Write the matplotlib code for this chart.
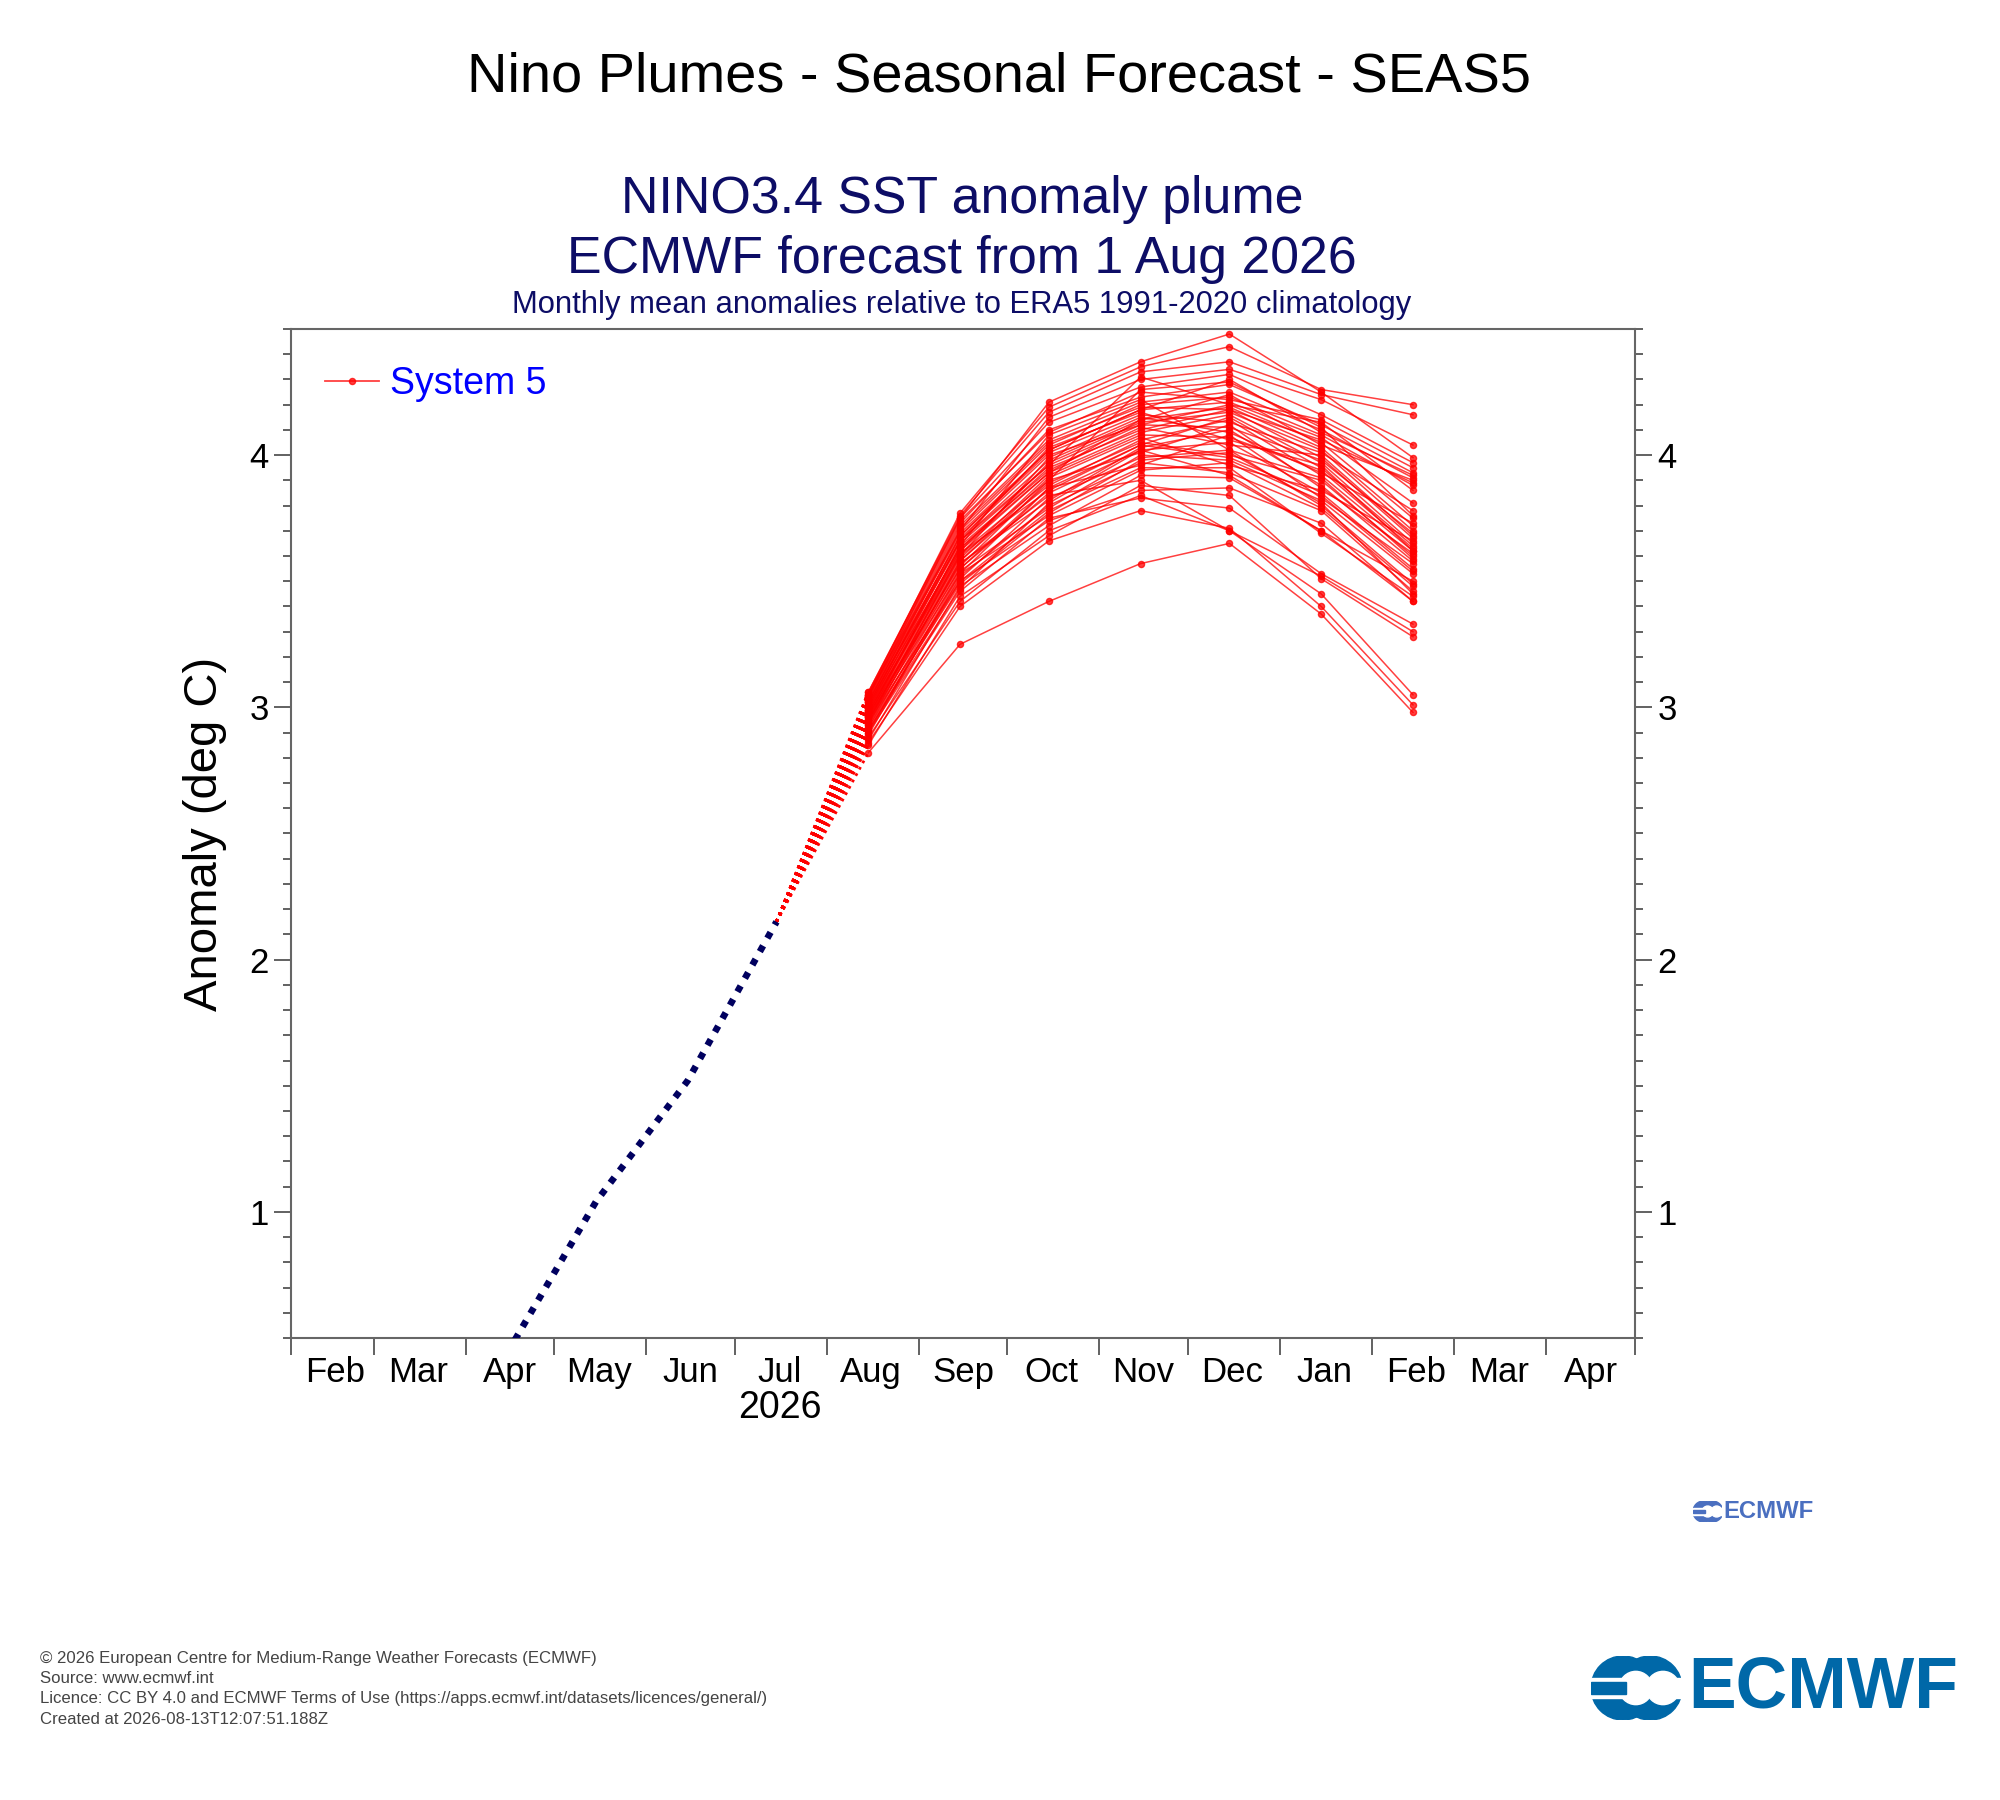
import datetime as dt
import matplotlib
matplotlib.use("Agg")
import matplotlib.pyplot as plt
import matplotlib.dates as mdates
from matplotlib.lines import Line2D
from matplotlib.patches import Circle, Rectangle

plt.rcParams['font.family'] = ['Liberation Sans', 'DejaVu Sans']

# observed anomalies (mid-month)
obs_dates = [dt.date(2026, 4, 15), dt.date(2026, 5, 15), dt.date(2026, 6, 15), dt.date(2026, 7, 15)]
obs_vals = [0.44, 1.04, 1.52, 2.15]

# forecast months (mid-month)
fc_dates = [dt.date(2026, 8, 15), dt.date(2026, 9, 15), dt.date(2026, 10, 15), dt.date(2026, 11, 15),
            dt.date(2026, 12, 15), dt.date(2027, 1, 15), dt.date(2027, 2, 15)]

# ensemble members, one value per member for each month
aug = [2.82, 2.86, 2.88, 2.85, 2.90, 2.87, 2.91, 2.89, 2.93, 2.92, 2.94, 2.95, 2.96, 2.93, 2.97, 2.95, 2.98,
       2.94, 2.99, 2.97, 3.00, 2.96, 3.01, 2.98, 3.02, 2.99, 3.03, 3.00, 3.04, 3.01, 3.05, 3.02, 3.03, 2.97,
       3.04, 3.05, 3.06, 3.02, 3.06, 3.05, 3.04, 2.95, 2.92, 3.00, 2.91, 2.98, 2.96, 2.90, 3.01, 2.94, 2.99]
sep = [3.25, 3.40, 3.42, 3.44, 3.46, 3.48, 3.50, 3.52, 3.51, 3.54, 3.55, 3.53, 3.57, 3.58, 3.56, 3.60, 3.59,
       3.61, 3.62, 3.58, 3.63, 3.64, 3.65, 3.62, 3.66, 3.60, 3.67, 3.68, 3.69, 3.66, 3.70, 3.71, 3.72, 3.64,
       3.73, 3.74, 3.75, 3.70, 3.76, 3.77, 3.75, 3.57, 3.49, 3.63, 3.47, 3.61, 3.55, 3.53, 3.68, 3.50, 3.66]
oct_ = [3.42, 3.66, 3.70, 3.68, 3.75, 3.72, 3.78, 3.80, 3.83, 3.79, 3.85, 3.87, 3.82, 3.89, 3.90, 3.88, 3.92,
        3.86, 3.93, 3.91, 3.95, 3.94, 3.96, 3.97, 3.98, 3.99, 4.00, 4.01, 4.02, 4.03, 4.04, 4.05, 4.06, 4.08,
        4.10, 4.09, 4.13, 4.15, 4.17, 4.19, 4.21, 3.84, 3.77, 3.93, 3.81, 3.90, 3.87, 3.76, 4.02, 3.74, 3.96]
nov = [3.57, 3.78, 3.84, 3.88, 3.83, 3.92, 3.95, 3.97, 3.99, 4.00, 4.02, 3.96, 4.03, 4.05, 4.01, 4.06, 4.08,
       4.04, 4.09, 4.07, 4.10, 4.11, 4.12, 4.13, 4.14, 4.15, 4.12, 4.16, 4.18, 4.17, 4.20, 4.19, 4.21, 4.22,
       4.23, 4.25, 4.27, 4.30, 4.33, 4.35, 4.37, 3.90, 3.98, 4.14, 4.02, 4.26, 4.04, 3.94, 4.18, 3.86, 4.31]
dec = [3.65, 3.71, 3.70, 3.84, 3.79, 3.91, 3.95, 3.93, 4.02, 3.98, 4.05, 4.08, 4.10, 4.00, 4.12, 4.14, 4.07,
       4.15, 4.16, 3.96, 4.18, 4.04, 4.11, 4.17, 4.19, 4.09, 4.20, 4.13, 4.21, 4.06, 4.23, 4.18, 4.25, 4.02,
       4.28, 4.22, 4.32, 4.34, 4.37, 4.43, 4.48, 3.70, 4.01, 4.24, 3.92, 4.29, 3.99, 3.97, 4.30, 3.87, 4.20]
jan = [3.37, 3.40, 3.45, 3.51, 3.53, 3.70, 3.69, 3.78, 3.80, 3.82, 3.85, 3.83, 3.88, 3.90, 3.87, 3.92, 3.94,
       3.95, 3.97, 3.86, 3.99, 4.00, 3.98, 4.02, 4.03, 3.93, 4.05, 4.01, 4.07, 3.96, 4.08, 4.06, 4.10, 3.91,
       4.12, 4.14, 4.16, 4.22, 4.24, 4.26, 4.25, 3.52, 3.81, 4.04, 3.70, 4.11, 3.84, 3.79, 4.09, 3.73, 4.13]
feb = [2.98, 3.01, 3.05, 3.28, 3.33, 3.42, 3.44, 3.46, 3.49, 3.53, 3.55, 3.57, 3.58, 3.60, 3.61, 3.62, 3.63,
       3.64, 3.65, 3.66, 3.67, 3.68, 3.69, 3.70, 3.72, 3.73, 3.75, 3.78, 3.81, 3.62, 3.88, 3.89, 3.91, 3.59,
       3.93, 3.95, 3.97, 4.04, 4.16, 4.20, 3.99, 3.30, 3.45, 3.90, 3.50, 3.76, 3.54, 3.48, 3.92, 3.42, 3.86]

month_start = [dt.date(2026, m, 1) for m in range(2, 13)] + [dt.date(2027, m, 1) for m in range(1, 6)]

W, H = 2000, 1800
fig = plt.figure(figsize=(W / 100, H / 100), dpi=100)
ax = fig.add_axes([291 / W, 1 - 1338 / H, (1635 - 291) / W, (1338 - 329) / H])

members = list(zip(aug, sep, oct_, nov, dec, jan, feb))
for m in members:
    ax.plot(fc_dates, m, color='red', lw=1.1, alpha=0.75, marker='o', ms=4.4,
            mfc='red', mec='red', zorder=3)
    ax.plot([obs_dates[-1], fc_dates[0]], [obs_vals[-1], m[0]], color='red', lw=2.0,
            ls=(0, (1, 1.6)), zorder=2)

ax.plot(obs_dates, obs_vals, color='#00005f', lw=4.8, ls=(0, (1, 1.3)),
        dash_capstyle='butt', zorder=4)

ax.set_xlim(month_start[0], month_start[-1])
ax.set_ylim(0.5, 4.5)

ax.xaxis.set_major_locator(mdates.MonthLocator())
ax.xaxis.set_major_formatter(plt.NullFormatter())
ax.xaxis.set_minor_locator(mdates.MonthLocator(bymonthday=16))
ax.xaxis.set_minor_formatter(mdates.DateFormatter('%b'))
ax.tick_params(axis='x', which='major', direction='out', length=12, width=1.3, color='#555555')
ax.tick_params(axis='x', which='minor', length=0, labelsize=25, pad=13)

ax.set_yticks([1, 2, 3, 4])
ax.set_yticks([v / 10 for v in range(5, 46)], minor=True)
ax.tick_params(axis='y', which='both', direction='out', left=True, right=True,
               labelleft=True, labelright=True, color='#555555', width=1.3)
ax.tick_params(axis='y', which='major', length=12, labelsize=25, pad=4)
ax.tick_params(axis='y', which='minor', length=6)

for s in ax.spines.values():
    s.set_color('#666666')
    s.set_linewidth(1.5)

ax.set_ylabel('Anomaly (deg C)', fontsize=34, labelpad=16)
ax.text(dt.date(2026, 7, 16), -0.069, '2026', transform=ax.get_xaxis_transform(),
        ha='center', va='center', fontsize=27)

leg_handle = Line2D([], [], color='red', lw=1.3, alpha=0.75, marker='o', ms=4.4)
ax.legend([leg_handle], ['System 5'], loc='upper left', frameon=False, fontsize=27,
          labelcolor='blue', handlelength=1.45, handletextpad=0.3, borderaxespad=0,
          bbox_to_anchor=(0.014, 0.978))

fig.text(999 / W, 1 - 78 / H, 'Nino Plumes - Seasonal Forecast - SEAS5', ha='center', va='center',
         fontsize=40.3)
navy = '#0d0d66'
fig.text(962 / W, 1 - 200 / H, 'NINO3.4 SST anomaly plume', ha='center', va='center',
         fontsize=37.4, color=navy)
fig.text(962 / W, 1 - 260 / H, 'ECMWF forecast from 1 Aug 2026', ha='center', va='center',
         fontsize=37.4, color=navy)
fig.text(962 / W, 1 - 305 / H, 'Monthly mean anomalies relative to ERA5 1991-2020 climatology',
         ha='center', va='center', fontsize=22.3, color=navy)

footer = ['\u00a9 2026 European Centre for Medium-Range Weather Forecasts (ECMWF)',
          'Source: www.ecmwf.int',
          'Licence: CC BY 4.0 and ECMWF Terms of Use (https://apps.ecmwf.int/datasets/licences/general/)',
          'Created at 2026-08-13T12:07:51.188Z']
for i, line in enumerate(footer):
    fig.text(40 / W, 1 - (1658 + i * 20.4) / H, line, ha='left', va='center', fontsize=12.05,
             color='#444444')


def draw_logo(x0, y0, h, color, fs, text_x):
    # rough ECMWF mark drawn in pixel units: two overlapping "C" rings and the wordmark
    w = 1.4 * h
    lax = fig.add_axes([x0 / W, 1 - (y0 + h) / H, w / W, h / H])
    lax.set_xlim(0, w)
    lax.set_ylim(0, h)
    lax.axis('off')
    r = h / 2
    c1, c2 = r, r + 0.85 * r
    lax.add_patch(Circle((c1, r), r, color=color))
    lax.add_patch(Circle((c2, r), r, color=color))
    lax.add_patch(Circle((c1 + 0.4 * r, r), 0.52 * r, color='white'))
    lax.add_patch(Circle((c2 + 0.4 * r, r), 0.52 * r, color='white'))
    lax.add_patch(Rectangle((c2 + 0.4 * r, r - 0.3 * r), r, 0.6 * r, color='white'))
    lax.add_patch(Rectangle((0, r - 0.32 * r), c1 + 0.1 * r, 0.64 * r, color='white'))
    lax.add_patch(Rectangle((0, r - 0.18 * r), c1 + 0.1 * r, 0.36 * r, color=color))
    fig.text(text_x / W, 1 - (y0 + h / 2) / H, 'ECMWF', ha='left', va='center',
             fontsize=fs, fontweight='bold', color=color)


draw_logo(1591, 1656, 64, '#0068a8', 51.5, 1688)
draw_logo(1693, 1501, 21, '#4a6fc0', 17.2, 1723)

fig.savefig('out.png', dpi=100)
